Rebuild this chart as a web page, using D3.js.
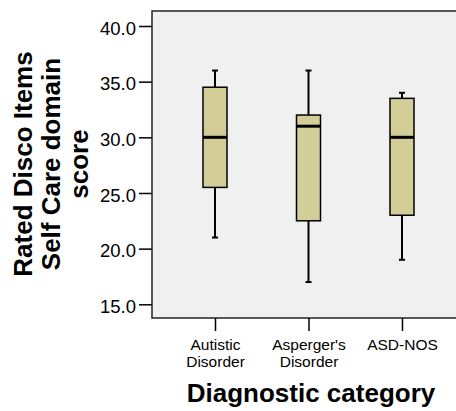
<!DOCTYPE html>
<html>
<head>
<meta charset="utf-8">
<script src="https://cdn.jsdelivr.net/npm/d3@7"></script>
<style>
  body { margin: 0; background: #fff; }
  svg { display: block; font-family: Arial, "Liberation Sans", sans-serif; }
</style>
</head>
<body>
<svg></svg>
<script>
// data
const categories = ["Autistic Disorder", "Asperger's Disorder", "ASD-NOS"];
const labelLines = [["Autistic", "Disorder"], ["Asperger's", "Disorder"], ["ASD-NOS"]];
const whiskerLow = [21, 17, 19];
const q1 = [25.5, 22.5, 23];
const median = [30, 31, 30];
const q3 = [34.5, 32, 33.5];
const whiskerHigh = [36, 36, 34];
const yTicks = [15, 20, 25, 30, 35, 40];

const boxes = categories.map((c, i) => ({
  cat: c, lo: whiskerLow[i], q1: q1[i], med: median[i], q3: q3[i], hi: whiskerHigh[i]
}));

const w = 456, h = 411;
const plot = { left: 152, top: 11, right: 470, bottom: 318 };

const svg = d3.select("svg").attr("width", w).attr("height", h);

const x = d3.scalePoint().domain(categories).range([215, 402]);
const y = d3.scaleLinear().domain([15, 40]).range([304.3, 26]);

// plot background
svg.append("rect")
  .attr("x", plot.left).attr("y", plot.top)
  .attr("width", plot.right - plot.left).attr("height", plot.bottom - plot.top)
  .attr("fill", "#f0f0f0")
  .attr("stroke", "#222").attr("stroke-width", 1.5);

// y axis
const yAxis = d3.axisLeft(y).tickValues(yTicks).tickSize(13).tickPadding(3)
  .tickFormat(d3.format(".1f"));
const yg = svg.append("g").attr("transform", `translate(${plot.left},0)`).call(yAxis);
yg.select(".domain").remove();
yg.selectAll("line").attr("stroke", "#000").attr("stroke-width", 1.5);
yg.selectAll("text").attr("font-size", 18.5).attr("fill", "#000")
  .attr("font-family", "Arial, 'Liberation Sans', sans-serif").attr("dy", "0.45em");

// x axis
const xAxis = d3.axisBottom(x).tickSize(13).tickFormat("");
const xg = svg.append("g").attr("transform", `translate(0,${plot.bottom})`).call(xAxis);
xg.select(".domain").remove();
xg.selectAll("line").attr("stroke", "#000").attr("stroke-width", 1.5);

xg.selectAll(".tick").each(function(d, i) {
  const t = d3.select(this).append("text")
    .attr("fill", "#000").attr("font-size", 15.5)
    .attr("font-family", "Arial, 'Liberation Sans', sans-serif")
    .attr("text-anchor", "middle").attr("y", 32);
  labelLines[i].forEach((ln, j) => {
    t.append("tspan").attr("x", 0).attr("dy", j === 0 ? 0 : 17).text(ln);
  });
});

// boxes
const bw = 24, cap = 6;
const g = svg.append("g");
boxes.forEach(b => {
  const cx = x(b.cat);
  const bg = g.append("g");
  // whiskers
  bg.append("line").attr("x1", cx).attr("x2", cx).attr("y1", y(b.hi)).attr("y2", y(b.q3))
    .attr("stroke", "#000").attr("stroke-width", 2);
  bg.append("line").attr("x1", cx).attr("x2", cx).attr("y1", y(b.q1)).attr("y2", y(b.lo))
    .attr("stroke", "#000").attr("stroke-width", 2);
  bg.append("line").attr("x1", cx - cap / 2).attr("x2", cx + cap / 2).attr("y1", y(b.hi)).attr("y2", y(b.hi))
    .attr("stroke", "#000").attr("stroke-width", 2);
  bg.append("line").attr("x1", cx - cap / 2).attr("x2", cx + cap / 2).attr("y1", y(b.lo)).attr("y2", y(b.lo))
    .attr("stroke", "#000").attr("stroke-width", 2);
  // box
  bg.append("rect").attr("x", cx - bw / 2).attr("y", y(b.q3))
    .attr("width", bw).attr("height", y(b.q1) - y(b.q3))
    .attr("fill", "#d3ce98").attr("stroke", "#000").attr("stroke-width", 1.5);
  // median
  bg.append("line").attr("x1", cx - bw / 2).attr("x2", cx + bw / 2).attr("y1", y(b.med)).attr("y2", y(b.med))
    .attr("stroke", "#000").attr("stroke-width", 3);
});

// axis titles
svg.append("text")
  .attr("x", 311).attr("y", 402)
  .attr("text-anchor", "middle")
  .attr("font-size", 26).attr("font-weight", "bold")
  .text("Diagnostic category");

const yTitle = ["Rated Disco Items", "Self Care domain", "score"];
const yt = svg.append("text")
  .attr("transform", "translate(32,164) rotate(-90)")
  .attr("text-anchor", "middle")
  .attr("font-size", 26).attr("font-weight", "bold");
yTitle.forEach((ln, j) => {
  yt.append("tspan").attr("x", 0).attr("dy", j === 0 ? 0 : 28).text(ln);
});
</script>
</body>
</html>
